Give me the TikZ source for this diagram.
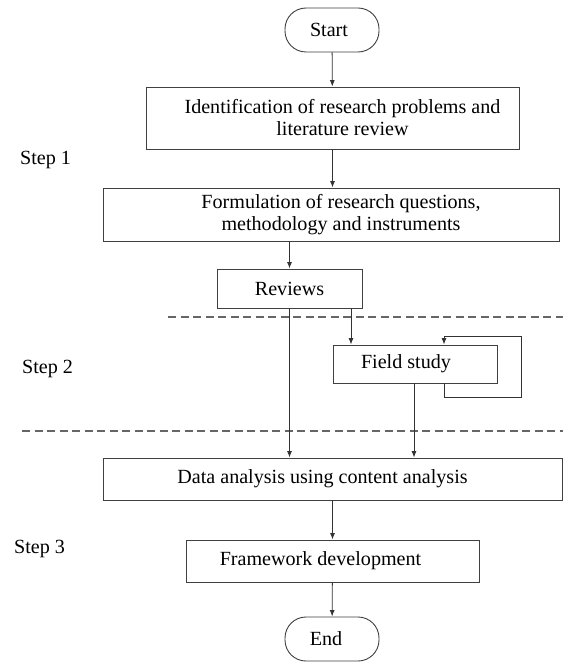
\documentclass[tikz,border=0pt]{standalone}
\usepackage{fontspec}
\setmainfont{Liberation Serif}
\usetikzlibrary{arrows.meta}
\begin{document}
\begin{tikzpicture}[x=1bp,y=-1bp,
  every node/.style={font=\fontsize{20.1bp}{22bp}\selectfont, text=black},
  box/.style={draw=black!75, line width=0.9bp, rectangle, align=center, inner sep=0pt},
  term/.style={draw=black!75, line width=0.9bp, rounded corners=21bp, inner sep=0pt, minimum width=94bp, minimum height=44bp},
  arr/.style={draw=black!80, line width=0.8bp, -{Latex[length=6.5bp,width=5bp]}},
  sep/.style={draw=black!60, line width=1.3bp, dash pattern=on 8bp off 4.5bp},
  steplabel/.style={anchor=west, inner sep=0pt}]
\useasboundingbox (0,0) rectangle (563,665);
\fill[white] (0,0) rectangle (563,665);

\node[term] (start) at (332,30) {Start\hspace*{6bp}};
\node[box, minimum width=373bp, minimum height=62bp] (ident) at (332.5,118)
  {\hspace*{20bp}Identification of research problems and\\\hspace*{20bp}literature review};
\node[box, minimum width=456bp, minimum height=53bp] (form) at (331,214.5)
  {\hspace*{20bp}Formulation of research questions,\\\hspace*{20bp}methodology and instruments};
\node[box, minimum width=145bp, minimum height=39bp] (rev) at (289.5,288.5) {Reviews};
\node[box, minimum width=164bp, minimum height=38bp] (field) at (415,364) {Field study\hspace*{18bp}};
\node[box, minimum width=459bp, minimum height=42bp] (data) at (332.5,479) {Data analysis using content analysis\hspace*{20bp}};
\node[box, minimum width=293bp, minimum height=42bp] (frame) at (332.5,561) {Framework development\hspace*{24bp}};
\node[term] (end) at (332,639) {End\hspace*{12bp}};

\node[steplabel] (s1) at (20,160) {Step 1};
\node[steplabel] (s2) at (22,369) {Step 2};
\node[steplabel] (s3) at (14,549) {Step 3};

\draw[sep] (168,317) -- (563,317);
\draw[sep] (22,431) -- (563,431);

\coordinate (c1) at (351,0);
\coordinate (c2) at (414,0);
\coordinate (c3) at (444,0);
\coordinate (c4) at (521,397);
\coordinate (c5) at (444,336);

\draw[arr] (start) -- (ident);
\draw[arr] (ident) -- (form.north -| ident);
\draw[arr] (form.south -| rev) -- (rev);
\draw[arr] (rev) -- (data.north -| rev);
\draw[arr] (rev.south -| c1) -- (field.north -| c1);
\draw[arr] (field.south -| c2) -- (data.north -| c2);
\draw[arr] (field.south -| c3) |- (c4) |- (c5) -- (field.north -| c3);
\draw[arr] (data.south -| frame) -- (frame);
\draw[arr] (frame) -- (end);
\end{tikzpicture}
\end{document}
